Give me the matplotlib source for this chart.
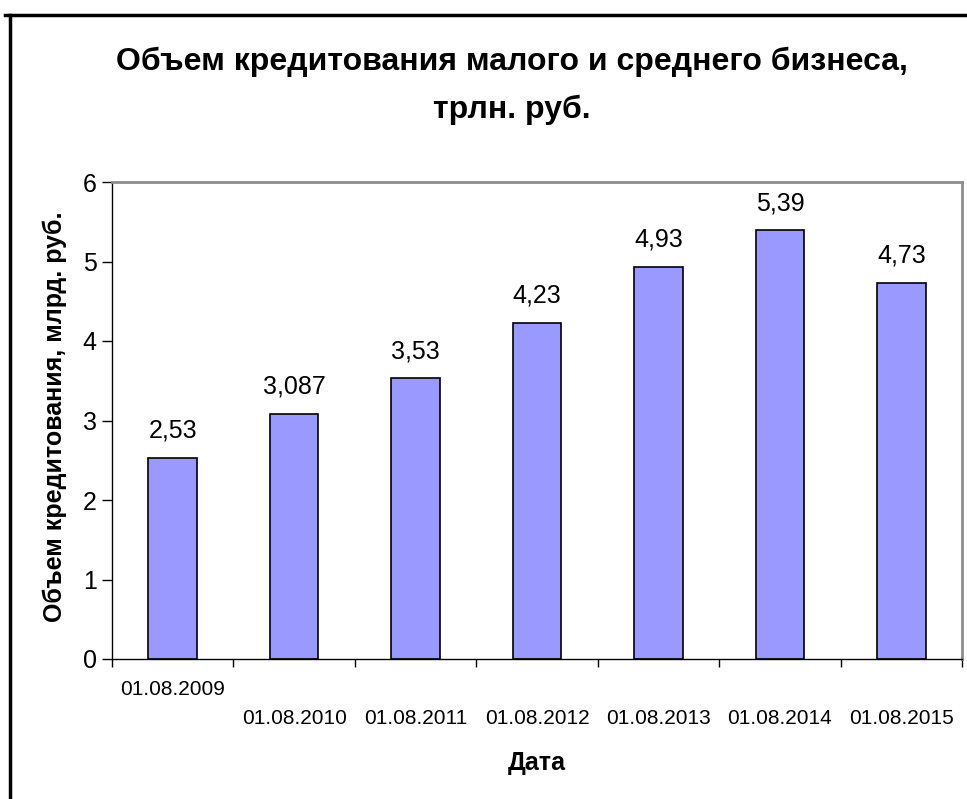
import matplotlib.pyplot as plt
from matplotlib.lines import Line2D
import numpy as np

# data
dates = ['01.08.2009', '01.08.2010', '01.08.2011', '01.08.2012',
         '01.08.2013', '01.08.2014', '01.08.2015']
volumes = [2.53, 3.087, 3.53, 4.23, 4.93, 5.39, 4.73]
value_labels = ['2,53', '3,087', '3,53', '4,23', '4,93', '5,39', '4,73']

plt.rcParams['font.family'] = ['Liberation Sans', 'DejaVu Sans']

W, H = 967, 799
fig = plt.figure(figsize=(W / 100, H / 100), dpi=100)
ax = fig.add_axes([112 / W, 1 - 659 / H, (962 - 112) / W, (659 - 182) / H])

x = np.arange(len(dates))
ax.bar(x, volumes, width=0.4, color='#9999FF', edgecolor='black', linewidth=1.2, zorder=2)

for xi, v, lab in zip(x, volumes, value_labels):
    ax.annotate(lab, (xi, v), xytext=(0, 11), textcoords='offset points',
                ha='center', va='bottom', fontsize=18)

ax.set_xlim(-0.5, len(dates) - 0.5)
ax.set_ylim(0, 6)
ax.set_yticks(range(0, 7))
ax.tick_params(axis='y', direction='out', length=7, width=1, labelsize=18, pad=4)

# category labels at centers, tick marks between categories
ax.set_xticks(x)
ax.set_xticklabels(dates, fontsize=15)
ax.set_xticks(np.arange(-0.5, len(dates)), minor=True)
ax.tick_params(axis='x', which='major', length=0, pad=36)
ax.tick_params(axis='x', which='minor', direction='out', length=6, width=1)
ax.xaxis.get_major_ticks()[0].set_pad(15)

for s in ['top', 'right']:
    ax.spines[s].set_color('#8c8c8c')
    ax.spines[s].set_linewidth(2)
for s in ['left', 'bottom']:
    ax.spines[s].set_color('black')
    ax.spines[s].set_linewidth(1)

ax.set_ylabel('Объем кредитования, млрд. руб.', fontsize=18, fontweight='bold')
ax.yaxis.set_label_coords((55 - 112) / (962 - 112), (659 - 417) / (659 - 182))
ax.yaxis.label.set_va('center')
ax.set_xlabel('Дата', fontsize=18, fontweight='bold')
ax.xaxis.set_label_coords(0.5, -(763 - 659) / (659 - 182))
ax.xaxis.label.set_va('center')

fig.text(512 / W, 1 - 86 / H, 'Объем кредитования малого и среднего бизнеса,\nтрлн. руб.',
         ha='center', va='center', fontsize=23, fontweight='bold', linespacing=1.78)

# outer chart frame (top and left edges visible)
fig.add_artist(Line2D([9.5 / W, 9.5 / W], [0, 1 - 14.5 / H], color='black', linewidth=2.5))
fig.add_artist(Line2D([5 / W, 1], [1 - 14.5 / H, 1 - 14.5 / H], color='black', linewidth=2.5))

fig.savefig('out.png', dpi=100)
